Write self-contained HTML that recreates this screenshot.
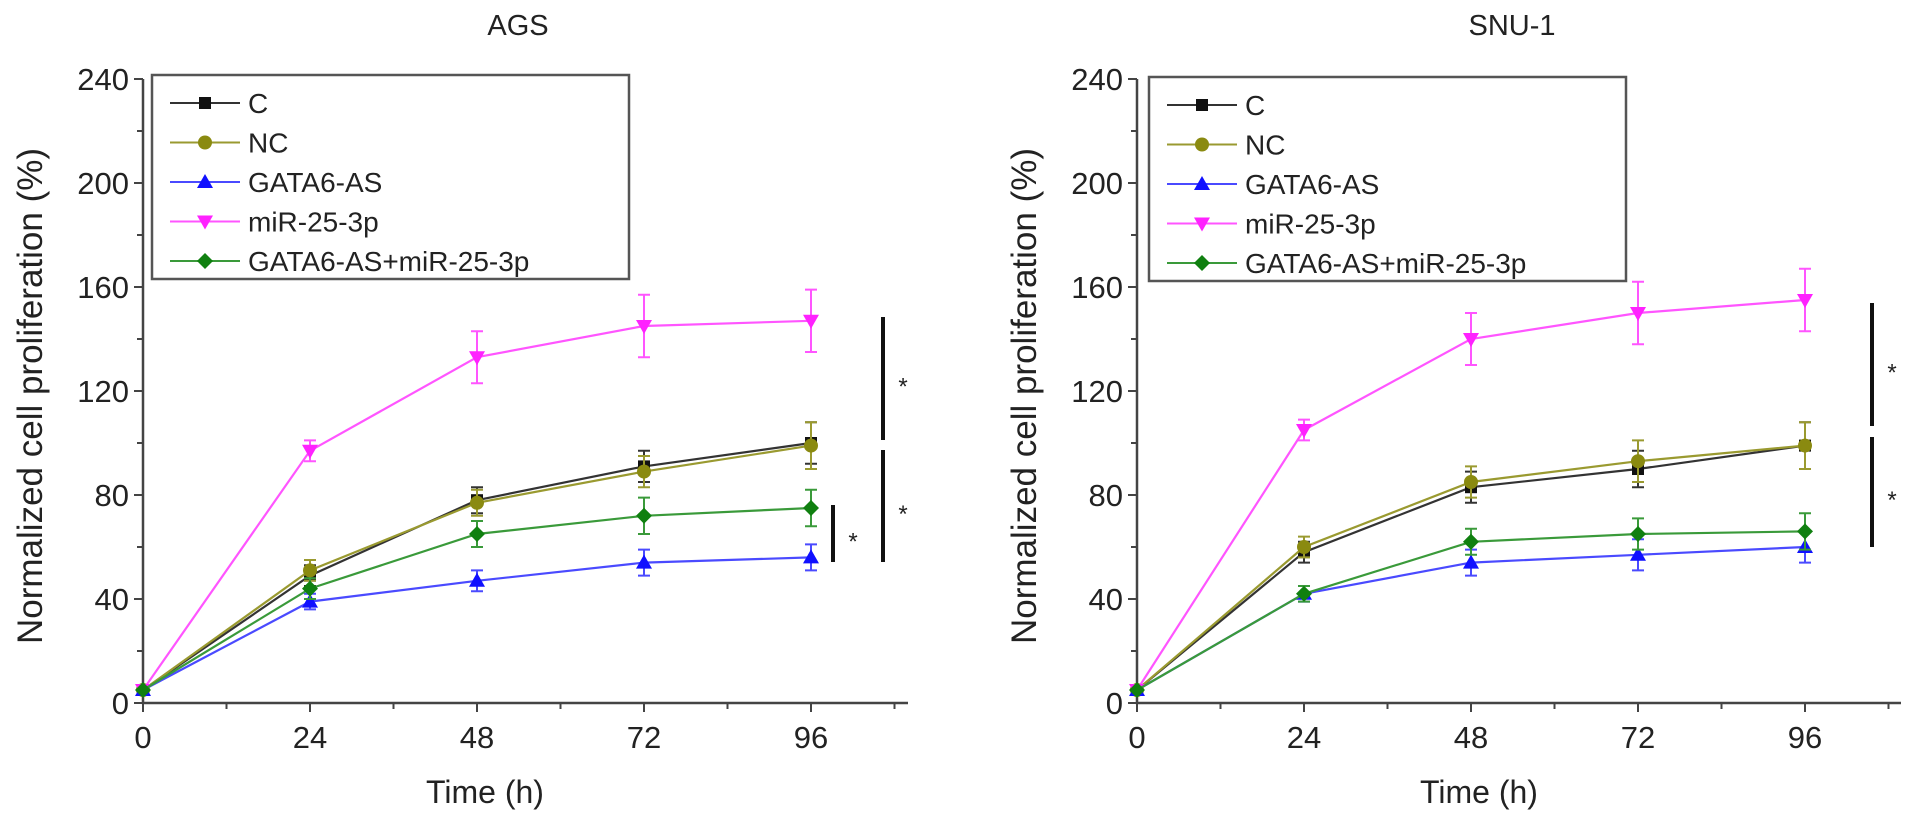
<!DOCTYPE html>
<html><head><meta charset="utf-8"><style>
body{margin:0;background:#fff}
svg text{font-family:"Liberation Sans",Arial,sans-serif;fill:#222}
</style></head><body>
<svg id="root" width="1913" height="827" viewBox="0 0 1913 827" xmlns="http://www.w3.org/2000/svg"></svg>
<script>
const times = [0, 24, 48, 72, 96];
const series = ["C", "NC", "GATA6-AS", "miR-25-3p", "GATA6-AS+miR-25-3p"];
const yTicks = [0, 40, 80, 120, 160, 200, 240];
const xTicks = [0, 24, 48, 72, 96];
const agsC = [5, 49, 78, 91, 100];
const agsNC = [5, 51, 77, 89, 99];
const agsG = [5, 39, 47, 54, 56];
const agsM = [5, 97, 133, 145, 147];
const agsGM = [5, 44, 65, 72, 75];
const agsErrC = [1, 4, 5, 6, 8];
const agsErrNC = [1, 4, 5, 6, 9];
const agsErrG = [1, 3, 4, 5, 5];
const agsErrM = [1, 4, 10, 12, 12];
const agsErrGM = [1, 4, 5, 7, 7];
const snuC = [5, 58, 83, 90, 99];
const snuNC = [5, 60, 85, 93, 99];
const snuG = [5, 42, 54, 57, 60];
const snuM = [5, 105, 140, 150, 155];
const snuGM = [5, 42, 62, 65, 66];
const snuErrC = [1, 4, 6, 7, 9];
const snuErrNC = [1, 4, 6, 8, 9];
const snuErrG = [1, 3, 5, 6, 6];
const snuErrM = [1, 4, 10, 12, 12];
const snuErrGM = [1, 3, 5, 6, 7];

const NS="http://www.w3.org/2000/svg";
const root=document.getElementById('root');
function mk(tag,attrs,parent){const e=document.createElementNS(NS,tag);for(const k in attrs)e.setAttribute(k,attrs[k]);(parent||root).appendChild(e);return e;}
const colors=["#111","#8a8a10","#1010ff","#ff22ff","#108010"];
const lineColors=["#333","#9a9a30","#4a4aff","#ff55ff","#3a9a3a"];

function marker(g,type,x,y,c){
  let e;
  if(type===0) e=mk('rect',{x:x-6,y:y-6,width:12,height:12,fill:c},g);
  else if(type===1) e=mk('circle',{cx:x,cy:y,r:7,fill:c},g);
  else if(type===2) e=mk('polygon',{points:`${x},${y-8} ${x+8},${y+6} ${x-8},${y+6}`,fill:c},g);
  else if(type===3) e=mk('polygon',{points:`${x},${y+8} ${x+8},${y-6} ${x-8},${y-6}`,fill:c},g);
  else e=mk('polygon',{points:`${x},${y-8} ${x+8},${y} ${x},${y+8} ${x-8},${y}`,fill:c},g);
  return e;
}

function panel(o){
  const g=mk('g',{});
  
  
  const X=v=>o.x0+v*(o.x24/24), Y=v=>o.y0-v*o.ky;
  const ax=mk('path',{d:`M${o.x0} ${Y(240)}V${o.y0}H${o.xEnd}`,stroke:'#444','stroke-width':2.5,fill:'none'},g);
  
  
  yTicks.forEach(t=>{
    mk('line',{x1:o.x0-9,x2:o.x0,y1:Y(t),y2:Y(t),stroke:'#444','stroke-width':2},g);
    if(t<240) mk('line',{x1:o.x0-6,x2:o.x0,y1:Y(t+20),y2:Y(t+20),stroke:'#444','stroke-width':2},g);
    const tx=mk('text',{x:o.x0-14,y:Y(t)+11,'text-anchor':'end','font-size':31},g);tx.textContent=t;
    
    
  });
  xTicks.forEach(t=>{
    mk('line',{x1:X(t),x2:X(t),y1:o.y0,y2:o.y0+9,stroke:'#444','stroke-width':2},g);
    mk('line',{x1:X(t+12),x2:X(t+12),y1:o.y0,y2:o.y0+6,stroke:'#444','stroke-width':2},g);
    const tx=mk('text',{x:X(t),y:o.y0+45,'text-anchor':'middle','font-size':31},g);tx.textContent=t;
    
    
  });
  const ti=mk('text',{x:o.titleX,y:35,'text-anchor':'middle','font-size':29},g);ti.textContent=o.name;
  
  
  const xt=mk('text',{x:(o.x0+X(96))/2+8,y:803,'text-anchor':'middle','font-size':32},g);xt.textContent='Time (h)';
  
  
  const yt=mk('text',{x:0,y:0,'text-anchor':'middle','font-size':35,transform:`translate(${o.yTitleX},${(Y(0)+Y(240))/2+5}) rotate(-90)`},g);yt.textContent='Normalized cell proliferation (%)';
  
  
  o.data.forEach((d,i)=>{
    const sg=mk('g',{},g);
    
    
    const pts=times.map((t,j)=>X(t)+','+Y(d[j])).join(' ');
    mk('polyline',{points:pts,fill:'none',stroke:lineColors[i],'stroke-width':2.2},sg);
    times.forEach((t,j)=>{
      const e=o.err[i][j];if(j>0){
        const x=X(t);
        mk('path',{d:`M${x} ${Y(d[j]+e)}V${Y(d[j]-e)}M${x-6} ${Y(d[j]+e)}h12M${x-6} ${Y(d[j]-e)}h12`,stroke:lineColors[i],'stroke-width':2,fill:'none'},sg);
      }
      const m=marker(sg,i,X(t),Y(d[j]),colors[i]);
      
      
    });
  });
  const lg=mk('g',{},g);
  
  
  mk('rect',{x:o.lx,y:o.ly,width:477,height:204,fill:'none',stroke:'#555','stroke-width':2.5},lg);
  series.forEach((s,i)=>{
    const y=o.ly+28+i*39.5;
    const le=mk('g',{},lg);
    
    
    mk('line',{x1:o.lx+18,x2:o.lx+88,y1:y,y2:y,stroke:lineColors[i],'stroke-width':2},le);
    marker(le,i,o.lx+53,y,colors[i]);
    const t=mk('text',{x:o.lx+96,y:y+10,'font-size':28},le);t.textContent=s;
  });
  o.br.forEach(b=>{
    const bg=mk('g',{},g);
    
    
    mk('line',{x1:b[0],x2:b[0],y1:b[1],y2:b[2],stroke:'#111','stroke-width':4},bg);
    const a=mk('text',{x:b[0]+20,y:(b[1]+b[2])/2+16,'text-anchor':'middle','font-size':24},bg);a.textContent='*';
  });
}
panel({name:'AGS',x0:143,x24:167,xEnd:908,y0:703,ky:2.6,titleX:518,yTitleX:42,lx:152,ly:75,
  data:[agsC,agsNC,agsG,agsM,agsGM],err:[agsErrC,agsErrNC,agsErrG,agsErrM,agsErrGM],
  br:[[883,317,440],[883,450,562],[833,505,562]]});
panel({name:'SNU-1',x0:1137,x24:167,xEnd:1901,y0:703,ky:2.6,titleX:1512,yTitleX:1036,lx:1149,ly:77,
  data:[snuC,snuNC,snuG,snuM,snuGM],err:[snuErrC,snuErrNC,snuErrG,snuErrM,snuErrGM],
  br:[[1872,303,426],[1872,437,547]]});
</script>
</body></html>
